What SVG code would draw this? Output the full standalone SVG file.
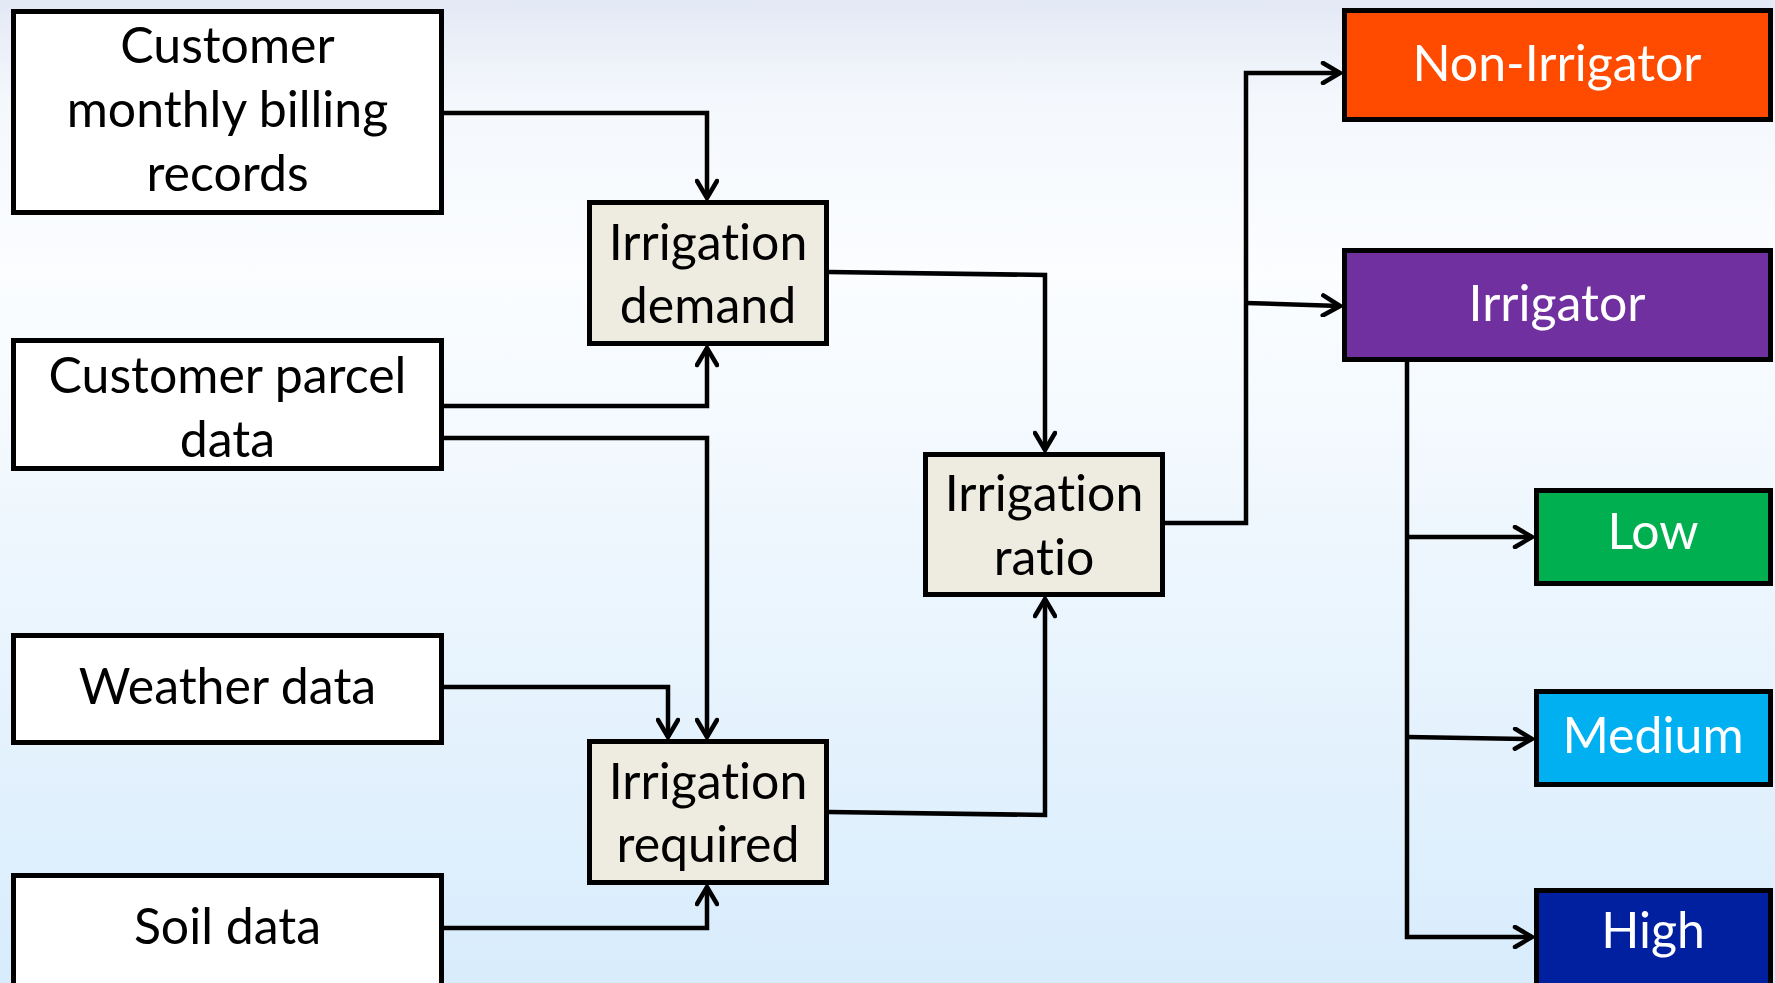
<svg xmlns="http://www.w3.org/2000/svg" width="1775" height="983" viewBox="0 0 1775 983">
<style>
.box{stroke:#000;stroke-width:5}
.w{fill:#fff}
.b{fill:#eeebe0}
.t{font-family:Lato,"Liberation Sans",sans-serif;font-size:50px;text-anchor:middle;fill:#000;font-variant-ligatures:none;font-feature-settings:"liga" 0,"clig" 0,"dlig" 0}
.tw{fill:#fff}
.c{fill:none;stroke:#000;stroke-width:4.5;stroke-linejoin:miter}
</style>
<defs>
<linearGradient id="bg" x1="0" y1="0" x2="0" y2="1">
<stop offset="0" stop-color="#e3e9f5"/>
<stop offset="0.1" stop-color="#f4f7fc"/>
<stop offset="0.28" stop-color="#fbfdff"/>
<stop offset="1" stop-color="#d8ecfc"/>
</linearGradient>
<marker id="ah" markerUnits="userSpaceOnUse" viewBox="-20 -12 24 24" refX="0" refY="0" markerWidth="24" markerHeight="24" orient="auto">
<path d="M-17,-10 L0,0 L-17,10" fill="none" stroke="#000" stroke-width="4.5" stroke-linecap="round" stroke-linejoin="miter"/>
</marker>
</defs>
<rect x="0" y="0" width="1775" height="983" fill="url(#bg)"/>

<g id="connectors">
<path class="c" d="M444,113 H707 V198" marker-end="url(#ah)"/>
<path class="c" d="M444,406 H707 V348" marker-end="url(#ah)"/>
<path class="c" d="M444,438 H707 V737" marker-end="url(#ah)"/>
<path class="c" d="M444,687 H668 V737" marker-end="url(#ah)"/>
<path class="c" d="M444,928 H707 V887" marker-end="url(#ah)"/>
<path class="c" d="M829,272 L1045,275 V450" marker-end="url(#ah)"/>
<path class="c" d="M829,812 L1045,815 V599" marker-end="url(#ah)"/>
<path class="c" d="M1165,523 H1246 V73 H1340" marker-end="url(#ah)"/>
<path class="c" d="M1246,303 L1340,306" marker-end="url(#ah)"/>
<path class="c" d="M1407,362 V937 H1532" marker-end="url(#ah)"/>
<path class="c" d="M1407,537 H1532" marker-end="url(#ah)"/>
<path class="c" d="M1407,737 L1532,739" marker-end="url(#ah)"/>
</g>

<g id="billing">
<rect class="box w" x="13.5" y="11.5" width="428" height="201"/>
<text class="t" x="227.5" y="63">Customer</text>
<text class="t" x="227.5" y="127">monthly billing</text>
<text class="t" x="227.5" y="191">records</text>
</g>
<g id="parcel">
<rect class="box w" x="13.5" y="340.5" width="428" height="128"/>
<text class="t" x="227.5" y="393">Customer parcel</text>
<text class="t" x="227.5" y="457">data</text>
</g>
<g id="weather">
<rect class="box w" x="13.5" y="635.5" width="428" height="107"/>
<text class="t" x="227.5" y="704">Weather data</text>
</g>
<g id="soil">
<rect class="box w" x="13.5" y="875.5" width="428" height="200"/>
<text class="t" x="227.5" y="944">Soil data</text>
</g>
<g id="demand">
<rect class="box b" x="589.5" y="202.5" width="237" height="141"/>
<text class="t" x="708" y="260">Irrigation</text>
<text class="t" x="708" y="323">demand</text>
</g>
<g id="required">
<rect class="box b" x="589.5" y="741.5" width="237" height="141"/>
<text class="t" x="708" y="799">Irrigation</text>
<text class="t" x="708" y="862">required</text>
</g>
<g id="ratio">
<rect class="box b" x="925.5" y="454.5" width="237" height="140"/>
<text class="t" x="1044" y="511">Irrigation</text>
<text class="t" x="1044" y="575">ratio</text>
</g>
<g id="nonirrigator">
<rect class="box" fill="#ff4b00" x="1344.5" y="10.5" width="426" height="109"/>
<text class="t tw" x="1557" y="81">Non-Irrigator</text>
</g>
<g id="irrigator">
<rect class="box" fill="#7030a0" x="1344.5" y="250.5" width="426" height="109"/>
<text class="t tw" x="1557" y="321">Irrigator</text>
</g>
<g id="low">
<rect class="box" fill="#00b050" x="1536.5" y="490.5" width="234" height="93"/>
<text class="t tw" x="1653" y="549">Low</text>
</g>
<g id="medium">
<rect class="box" fill="#00b0f0" x="1536.5" y="691.5" width="234" height="93"/>
<text class="t tw" x="1653" y="753">Medium</text>
</g>
<g id="high">
<rect class="box" fill="#0020a0" x="1536.5" y="890.5" width="234" height="200"/>
<text class="t tw" x="1653" y="948">High</text>
</g>
</svg>
